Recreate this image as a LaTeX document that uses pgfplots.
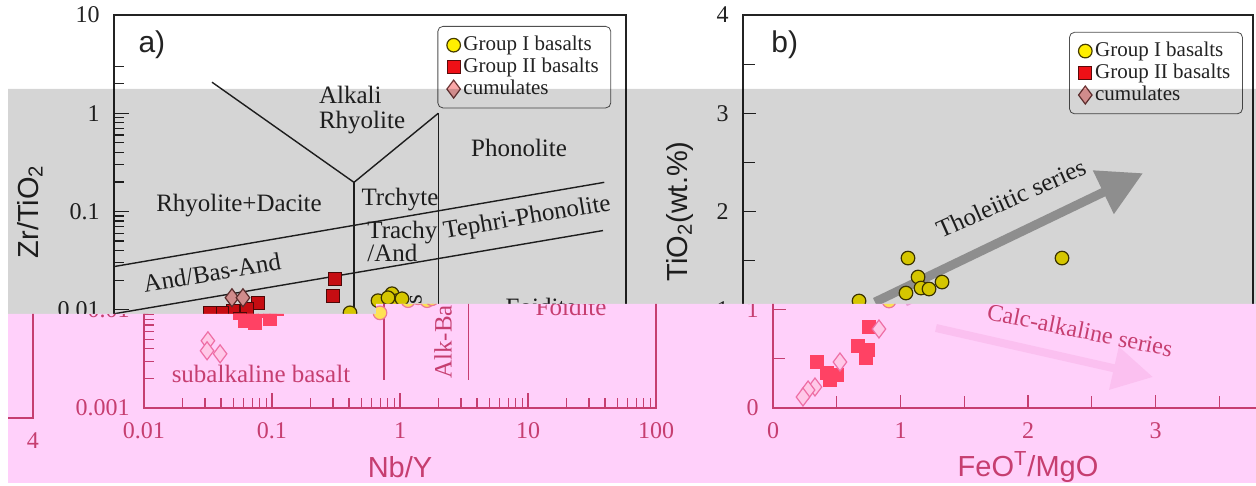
\documentclass[border=0pt]{standalone}
\usepackage{pgfplots}
\pgfplotsset{compat=1.18}
\usepackage{pgfplotstable}
\usepackage{fontspec}
\setmainfont{Liberation Serif}
\newfontfamily\sansf{Liberation Sans}
\usetikzlibrary{arrows.meta}

% top (normal) colours
\definecolor{tLine}{RGB}{35,35,35}
\definecolor{tYF}{RGB}{255,238,0}
\definecolor{tYD}{RGB}{70,60,0}
\definecolor{tRF}{RGB}{238,16,22}
\definecolor{tRD}{RGB}{90,10,10}
\definecolor{tDF}{RGB}{250,168,168}
\definecolor{tDD}{RGB}{110,55,55}
\definecolor{tArr}{RGB}{170,170,170}
\definecolor{tArrB}{RGB}{230,230,230}
\definecolor{tLeg}{RGB}{80,80,80}
% pink (lower band) colours
\definecolor{pBg}{RGB}{255,208,250}
\definecolor{pLine}{RGB}{198,62,112}
\definecolor{pYF}{RGB}{255,226,85}
\definecolor{pYD}{RGB}{235,120,150}
\definecolor{pRF}{RGB}{255,66,100}
\definecolor{pDF}{RGB}{255,200,232}
\definecolor{pDD}{RGB}{238,110,165}
\definecolor{pArr}{RGB}{235,160,215}
\definecolor{pArrB}{RGB}{251,192,240}

\newcommand{\setTop}{\colorlet{cLine}{tLine}\colorlet{cYF}{tYF}\colorlet{cYD}{tYD}%
 \colorlet{cRF}{tRF}\colorlet{cRD}{tRD}\colorlet{cDF}{tDF}\colorlet{cDD}{tDD}%
 \colorlet{cArr}{tArr}\colorlet{cArrB}{tArrB}\colorlet{cLeg}{tLeg}\colorlet{cLegBg}{white}}
\newcommand{\setPink}{\colorlet{cLine}{pLine}\colorlet{cYF}{pYF}\colorlet{cYD}{pYD}%
 \colorlet{cRF}{pRF}\colorlet{cRD}{pRF}\colorlet{cDF}{pDF}\colorlet{cDD}{pDD}%
 \colorlet{cArr}{pArr}\colorlet{cArrB}{pArrB}\colorlet{cLeg}{pLine}\colorlet{cLegBg}{pBg}}
\setTop

\newcommand{\tickf}{\fontsize{12}{14}\selectfont}
\newcommand{\labf}{\sansf\fontsize{14.5}{17}\selectfont}
\newcommand{\regf}{\fontsize{12.5}{12.5}\selectfont}
\newcommand{\legf}{\fontsize{10.5}{12.5}\selectfont}
\newcommand{\titf}{\sansf\fontsize{15}{18}\selectfont}

% ---------- data ----------
\pgfplotstableread{
x y
0.698 0.0093
1.155 0.01237
1.485 0.01456
1.626 0.01237
1.383 0.01325
1.778 0.01294
}\AgI
\pgfplotstableread{
x y
0.533 0.0207
0.514 0.0139
0.133 0.01179
0.109 0.01023
0.0851 0.00977
0.0698 0.0093
0.0562 0.0093
0.0964 0.0081
0.0736 0.00737
0.0615 0.00772
}\AgII
\pgfplotstableread{
x y
0.0835 0.01325
0.1018 0.01325
0.0316 0.00483
0.0311 0.00382
0.0393 0.00356
}\AgC
\pgfplotstableread{
x y
1.294 1.526
1.373 1.333
1.278 1.170
1.396 1.221
1.459 1.211
1.561 1.282
0.910 1.089
2.502 1.526
}\BgI
\pgfplotstableread{
x y
0.753 0.824
0.667 0.631
0.745 0.590
0.729 0.509
0.345 0.468
0.424 0.356
0.502 0.336
0.447 0.285
}\BgII
\pgfplotstableread{
x y
0.831 0.804
0.525 0.468
0.329 0.214
0.275 0.183
0.235 0.112
}\BgC

\tikzset{reg/.style={font=\regf, text=cLine}}
\pgfplotsset{
 chart/.style={scale only axis,
  axis line style={cLine, line width=0.7pt},
  tick style={cLine, line width=0.6pt},
  tick align=inside, tick pos=left,
  ticklabel style={font=\tickf, text=cLine},
  xticklabel style={yshift=-3.7pt},
  yticklabel style={xshift=-3.7pt},
  label style={font=\labf, text=cLine},
  xlabel style={at={(axis description cs:0.5,-0.15)}, anchor=center},
  legend style={draw=cLeg, fill=cLegBg, rounded corners=2.5pt, font=\legf,
    text=cLine, inner xsep=4.5pt, inner ysep=3.5pt, row sep=-0.8pt,
    nodes={inner sep=1.5pt}},
  legend cell align=left,
  legend image code/.code={\draw[##1] plot coordinates {(0pt,0pt)};},
 },
 gI/.style={only marks, mark=*, mark size=3.4pt, mark options={fill=cYF, draw=cYD, line width=0.6pt}},
 gII/.style={only marks, mark=square*, mark size=3.25pt, mark options={fill=cRF, draw=cRD, line width=0.6pt}},
 gC/.style={only marks, mark=diamond*, mark size=4.5pt, mark options={fill=cDF, draw=cDD, line width=0.6pt}},
}

% #1,#2 = offsets of the panel
\newcommand{\panelA}[2]{%
\begin{axis}[chart, at={(57pt+#1,39pt+#2)}, anchor=south west,
  width=256pt, height=196.5pt,
  xmode=log, ymode=log, xmin=0.01, xmax=100, ymin=0.001, ymax=10,
  major tick length=7.5pt, minor tick length=5pt,
  xtick={0.01,0.1,1,10,100}, xticklabels={0.01,0.1,1,10,100},
  ytick={0.001,0.01,0.1,1,10}, yticklabels={0.001,0.01,0.1,1,10},
  minor xtick={0.02,0.03,0.04,0.05,0.06,0.07,0.08,0.09,0.2,0.3,0.4,0.5,0.6,0.7,0.8,0.9,2,3,4,5,6,7,8,9,20,30,40,50,60,70,80,90},
  minor ytick={0.002,0.003,0.004,0.005,0.006,0.007,0.008,0.009,0.02,0.03,0.04,0.05,0.06,0.07,0.08,0.09,0.2,0.3,0.4,0.5,0.6,0.7,0.8,0.9,2,3},
  xlabel={Nb/Y}, ylabel={Zr/TiO\textsubscript{2}},
  ylabel style={at={(axis description cs:-0.164,0.5)}, anchor=center},
  legend style={at={(0.971,0.972)}, anchor=north east},
 ]
 \draw[cLine, line width=0.7pt] (axis cs:0.01,0.0275) -- (axis cs:67.6,0.198);
 \draw[cLine, line width=0.7pt] (axis cs:0.01,0.0091) -- (axis cs:66.1,0.064);
 \draw[cLine, line width=0.7pt] (axis cs:0.0583,2.07) -- (axis cs:0.75,0.198) -- (axis cs:3.42,1.0);
 \draw[cLine, line width=0.7pt] (axis cs:0.75,0.198) -- (axis cs:0.75,0.00193);
 \draw[cLine, line width=0.7pt] (axis cs:3.42,1.0) -- (axis cs:3.42,0.00193);
 \node[reg] at (axis cs:0.0948,0.115) {Rhyolite+Dacite};
 \node[reg, anchor=west, align=left] at (axis cs:0.352,1.073) {Alkali\\Rhyolite};
 \node[reg] at (axis cs:14.6,0.44) {Phonolite};
 \node[reg] at (axis cs:1.715,0.1325) {Trchyte};
 \node[reg, anchor=west] at (axis cs:0.84,0.0611) {Trachy};
 \node[reg, anchor=west] at (axis cs:0.84,0.0382) {/And};
 \node[reg, rotate=9.7] at (axis cs:16.9,0.0849) {Tephri-Phonolite};
 \node[reg, rotate=9.7] at (axis cs:0.0583,0.0239) {And/Bas-And};
 \node[reg] at (axis cs:21.7,0.01074) {Foidite};
 \node[reg] at (axis cs:0.082,0.00222) {subalkaline basalt};
 \node[reg, rotate=90] at (axis cs:2.17,0.0053) {Alk-Bas};
 \node[font=\titf, text=cLine] at (axis description cs:0.074,0.924) {a)};
 \addplot[gI] table {\AgI}; \addlegendentry{Group I basalts}
 \addplot[gII] table {\AgII}; \addlegendentry{Group II basalts}
 \addplot[gC] table {\AgC}; \addlegendentry{cumulates}
\end{axis}}

\newcommand{\panelB}[2]{%
\begin{axis}[chart, at={(371.5pt+#1,39pt+#2)}, anchor=south west,
  width=255pt, height=196.5pt,
  xmin=0, xmax=4, ymin=0, ymax=4,
  major tick length=6.5pt, minor tick length=6pt,
  xtick={0,1,2,3,4}, xticklabels={0,1,2,3,4},
  ytick={0,1,2,3,4}, yticklabels={0,1,2,3,4},
  minor xtick={0.5,1.5,2.5,3.5}, minor ytick={0.5,1.5,2.5,3.5},
  xlabel={FeO\textsuperscript{T}/MgO}, ylabel={TiO\textsubscript{2}(wt.\%)},
  ylabel style={at={(axis description cs:-0.1235,0.5)}, anchor=center},
  legend style={at={(0.980,0.957)}, anchor=north east},
 ]
 \draw[cArr, line width=4.5pt, -{Triangle[length=22pt,width=23pt]}] (axis cs:1.035,1.078) -- (axis cs:3.137,2.390);
 \draw[cArrB, line width=4pt, -{Triangle[length=20pt,width=21pt]}] (axis cs:1.278,0.814) -- (axis cs:2.980,0.315);
 \node[reg, rotate=24] at (axis cs:2.102,2.136) {Tholeiitic series};
 \node[reg, font=\fontsize{12}{12}\selectfont, rotate=-11.5] at (axis cs:2.408,0.793) {Calc-alkaline series};
 \node[font=\titf, text=cLine] at (axis description cs:0.082,0.924) {b)};
 \addplot[gI] table {\BgI}; \addlegendentry{Group I basalts}
 \addplot[gII] table {\BgII}; \addlegendentry{Group II basalts}
 \addplot[gC] table {\BgC}; \addlegendentry{cumulates}
\end{axis}}

\begin{document}
\begin{tikzpicture}
\useasboundingbox (0,0) rectangle (628pt,243pt);
\fill[white] (0,0) rectangle (628pt,243pt);
% upper part: chart as drawn
\begin{scope}
 \clip (0,243pt) -- (628pt,243pt) -- (628pt,91pt) -- (188pt,91pt) -- (188pt,86pt) -- (0,86pt) -- cycle;
 \setTop
 \panelA{0pt}{0pt}
 \panelB{0pt}{0pt}
\end{scope}
% grey band
\fill[black, opacity=0.165] (4pt,198.5pt) -- (628pt,198.5pt) -- (628pt,91pt) -- (188pt,91pt) -- (188pt,86pt) -- (4pt,86pt) -- cycle;
% lower part: pink, shifted
\begin{scope}
 \clip (4pt,86pt) -- (188pt,86pt) -- (188pt,91pt) -- (628pt,91pt) -- (628pt,1.5pt) -- (4pt,1.5pt) -- cycle;
 \fill[pBg] (0,0) rectangle (628pt,243pt);
 \setPink
 \panelA{15pt}{0pt}
 \panelB{15pt}{0pt}
 \panelB{-610pt}{-5pt}
\end{scope}
\end{tikzpicture}
\end{document}
